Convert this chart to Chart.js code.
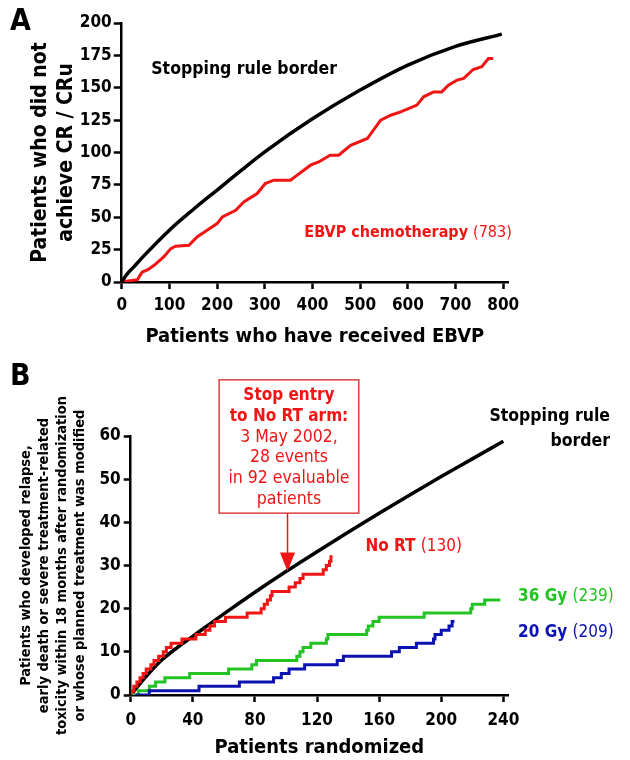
<!DOCTYPE html>
<html>
<head>
<meta charset="utf-8">
<script src="https://cdn.jsdelivr.net/npm/chart.js@4.4.0/dist/chart.umd.min.js"></script>
<style>
  body { margin: 0; background: #fff; }
  canvas { position: absolute; left: 0; }
  #chartA { top: 0; }
  #chartB { top: 355px; }
</style>
</head>
<body>
<canvas id="chartA" width="630" height="355"></canvas>
<canvas id="chartB" width="630" height="405"></canvas>
<script>
// Panel A: EBVP stopping rule (patients who did not achieve CR / CRu)
let borderAX = [0, 10, 25, 50, 100, 150, 200, 250, 300, 400, 500, 600, 700, 797]
let borderAY = [0, 5.5, 11.5, 21.5, 40, 56, 71, 86, 100.5, 126, 148.2, 167.5, 182, 191.4]
let ebvpX = [0, 10, 33, 43, 55, 68, 88, 103, 113, 141, 158, 179, 200, 211, 239, 256, 284, 301, 319, 354,
    368, 396, 413, 437, 455, 480, 515, 543, 564, 585, 619, 633, 654, 671, 685, 703, 717, 737, 755, 769, 779]
let ebvpY = [0, 0.5, 1.8, 7.7, 9.5, 12.9, 19.3, 25.8, 27.6, 28.4, 34.8, 40, 45.1, 50.2, 55.4, 61.8, 68.3, 76, 78.6, 78.6,
    82.5, 90.2, 92.7, 97.9, 97.9, 105.6, 110.8, 125, 128.8, 131.4, 136.6, 143, 146.8, 146.8, 152, 155.9, 157.2, 164.1, 166.2, 172.6, 172.6]
let xTicksA = [0, 100, 200, 300, 400, 500, 600, 700, 800]
let yTicksA = [0, 25, 50, 75, 100, 125, 150, 175, 200]

// Panel B: randomized arms, events (step curves: x = patient number, y = new count)
let borderBX = [0, 5, 10, 15, 20, 30, 40, 60, 80, 100, 120, 140, 160, 180, 200, 220, 240]
let borderBY = [0, 2.2, 4.3, 6.3, 8.1, 11, 13.6, 18.8, 23.8, 28.6, 33.2, 37.7, 42.1, 46.4, 50.6, 54.7, 58.8]
let noRtX = [0, 1, 2, 4, 6, 8, 10, 13, 15, 18, 21, 23, 26, 33, 42, 48, 51, 54, 61, 75, 84, 86, 88, 90, 91, 102, 106, 109, 111, 124, 126, 128, 129, 130]
let noRtY = [0, 1, 2, 3, 4, 5, 6, 7, 8, 9, 10, 11, 12, 13, 14, 15, 16, 17, 18, 19, 20, 21, 22, 23, 24, 25, 26, 27, 28, 29, 30, 31, 32, 32]
let gy36X = [1, 5, 12, 16, 22, 38, 63, 78, 81, 107, 109, 111, 116, 126, 127, 152, 153, 156, 160, 189, 219, 220, 228, 238]
let gy36Y = [0, 1, 2, 3, 4, 5, 6, 7, 8, 9, 10, 11, 12, 13, 14, 15, 16, 17, 18, 19, 20, 21, 22, 22]
let gy20X = [3, 12, 44, 70, 92, 97, 102, 112, 133, 137, 168, 173, 184, 195, 196, 200, 205, 207, 208.5]
let gy20Y = [0, 1, 2, 3, 4, 5, 6, 7, 8, 9, 10, 11, 12, 13, 14, 15, 16, 17, 17]
let xTicksB = [0, 40, 80, 120, 160, 200, 240]
let yTicksB = [0, 10, 20, 30, 40, 50, 60]

let red = '#f01414'
let green = '#22c322'
let blue = '#0c12b0'
let fontFam = "'DejaVu Sans Condensed', 'DejaVu Sans', sans-serif"

Chart.defaults.font.family = fontFam
Chart.defaults.font.weight = 'bold'
Chart.defaults.color = '#000'

function pts(xs, ys) {
    return xs.map((x, i) => ({x: x, y: ys[i]}))
}

function axis(ticks, min, max, size, tickLen, pad, title) {
    return {
        type: 'linear', min: min, max: max,
        afterBuildTicks: s => { s.ticks = ticks.map(v => ({value: v})) },
        afterFit: s => { if (s.isHorizontal()) s.height = size; else s.width = size },
        grid: {drawOnChartArea: false, tickLength: tickLen, tickWidth: 2.5, tickColor: '#000'},
        border: {color: '#000', width: 2.5},
        ticks: {color: '#000', font: {size: 17}, padding: pad, maxRotation: 0, autoSkip: false},
        title: title
    }
}

// draw a row of text pieces starting at x (or ending at x when right aligned)
function drawParts(ctx, parts, x, y, alignRight) {
    ctx.textBaseline = 'middle'
    ctx.textAlign = 'left'
    let w = 0
    parts.forEach(p => { ctx.font = p[1] + ' ' + p[3] + 'px ' + fontFam; w += ctx.measureText(p[0]).width })
    let cx = alignRight ? x - w : x
    parts.forEach(p => {
        ctx.font = p[1] + ' ' + p[3] + 'px ' + fontFam
        ctx.fillStyle = p[2]
        ctx.fillText(p[0], cx, y)
        cx += ctx.measureText(p[0]).width
    })
}

// labels placed by data value
function labelPlugin(letter, notes) {
    return {
        id: 'notes' + letter,
        afterDatasetsDraw(chart) {
            let ctx = chart.ctx
            let sx = chart.scales.x, sy = chart.scales.y
            ctx.save()
            notes.forEach(n => {
                drawParts(ctx, n.parts, sx.getPixelForValue(n.x), sy.getPixelForValue(n.y), n.right)
            })
            ctx.font = 'bold 30px ' + fontFam
            ctx.fillStyle = '#000'
            ctx.textBaseline = 'middle'
            ctx.textAlign = 'left'
            ctx.fillText(letter, 10, 22)
            ctx.restore()
        }
    }
}

let notesA = [
    {x: 62, y: 164, parts: [['Stopping rule border', 'bold', '#000', 17.5]]},
    {x: 383, y: 37.6, parts: [['EBVP chemotherapy ', 'bold', red, 16], ['(783)', 'normal', red, 16]]}
]

let chartA = new Chart(document.getElementById('chartA'), {
    type: 'line',
    data: {
        datasets: [
            {data: pts(borderAX, borderAY), borderColor: '#000', borderWidth: 3.5, pointRadius: 0, cubicInterpolationMode: 'monotone'},
            {data: pts(ebvpX, ebvpY), borderColor: red, borderWidth: 3, pointRadius: 0, tension: 0}
        ]
    },
    options: {
        responsive: false, animation: false,
        layout: {padding: {top: 23, right: 122, left: 0, bottom: 0}},
        plugins: {legend: {display: false}, tooltip: {enabled: false}},
        scales: {
            x: axis(xTicksA, 0, 810, 73, 7, 6,
                {display: true, text: 'Patients who have received EBVP', color: '#000', font: {size: 20}, padding: {top: 0, bottom: 6}}),
            y: axis(yTicksA, 0, 200, 121.7, 8, 2,
                {display: true, text: ['Patients who did not', 'achieve CR / CRu'], color: '#000', font: {size: 21, lineHeight: 1.25}, padding: {top: 27, bottom: 0}})
        }
    },
    plugins: [labelPlugin('A', notesA)]
})

let notesB = [
    {x: 308.7, y: 64.5, right: true, parts: [['Stopping rule', 'bold', '#000', 17.5]]},
    {x: 308.7, y: 58.7, right: true, parts: [['border', 'bold', '#000', 17.5]]},
    {x: 151.2, y: 34.3, parts: [['No RT ', 'bold', red, 17], ['(130)', 'normal', red, 17]]},
    {x: 249.5, y: 22.7, parts: [['36 Gy ', 'bold', green, 17], ['(239)', 'normal', green, 17]]},
    {x: 249.5, y: 14.4, parts: [['20 Gy ', 'bold', blue, 17], ['(209)', 'normal', blue, 17]]}
]

let stopLines = [['Stop entry', 'bold'], ['to No RT arm:', 'bold'], ['3 May 2002,', 'normal'],
    ['28 events', 'normal'], ['in 92 evaluable', 'normal'], ['patients', 'normal']]

// boxed note with an arrow pointing to where the No RT arm was stopped
let stopBox = {
    id: 'stopBox',
    afterDatasetsDraw(chart) {
        let ctx = chart.ctx
        let tx = chart.scales.x.getPixelForValue(101)
        let ty = chart.scales.y.getPixelForValue(28.6)
        let left = tx - 68.4, top = ty - 191.7, w = 139.7, h = 133.3
        ctx.save()
        ctx.fillStyle = '#fff'
        ctx.fillRect(left, top, w, h)
        ctx.strokeStyle = '#dd4040'
        ctx.lineWidth = 1.5
        ctx.strokeRect(left, top, w, h)
        ctx.strokeStyle = red
        ctx.beginPath()
        ctx.moveTo(tx, top + h)
        ctx.lineTo(tx, ty - 16)
        ctx.stroke()
        ctx.fillStyle = red
        ctx.beginPath()
        ctx.moveTo(tx - 7.5, ty - 19)
        ctx.lineTo(tx + 7.5, ty - 19)
        ctx.lineTo(tx, ty)
        ctx.closePath()
        ctx.fill()
        ctx.textAlign = 'center'
        ctx.textBaseline = 'middle'
        stopLines.forEach((l, i) => {
            ctx.font = l[1] + (l[1] === 'bold' ? ' 17px ' : ' 17.5px ') + fontFam
            ctx.fillText(l[0], left + w / 2, top + 16 + i * 20.7)
        })
        ctx.restore()
    }
}

let stepLine = (xs, ys, color) => ({
    data: pts(xs, ys), borderColor: color, borderWidth: 3, pointRadius: 0, stepped: true
})

let chartB = new Chart(document.getElementById('chartB'), {
    type: 'line',
    data: {
        datasets: [
            stepLine(gy20X, gy20Y, blue),
            stepLine(gy36X, gy36Y, green),
            stepLine(noRtX, noRtY, red),
            {data: pts(borderBX, borderBY), borderColor: '#000', borderWidth: 3.5, pointRadius: 0, cubicInterpolationMode: 'monotone'}
        ]
    },
    options: {
        responsive: false, animation: false,
        layout: {padding: {top: 81, right: 122, left: 0, bottom: 0}},
        plugins: {legend: {display: false}, tooltip: {enabled: false}},
        scales: {
            x: axis(xTicksB, 0, 243, 65, 7, 8,
                {display: true, text: 'Patients randomized', color: '#000', font: {size: 20}, padding: {top: 0, bottom: 0}}),
            y: axis(yTicksB, 0, 60, 130.7, 7, 3,
                {display: true, color: '#000', font: {size: 14.5, lineHeight: 1.24}, padding: {top: 17, bottom: 0},
                 text: ['Patients who developed relapse,', 'early death or severe treatment-related',
                        'toxicity within 18 months after randomization', 'or whose planned treatment was modified']})
        }
    },
    plugins: [labelPlugin('B', notesB), stopBox]
})
</script>
</body>
</html>
